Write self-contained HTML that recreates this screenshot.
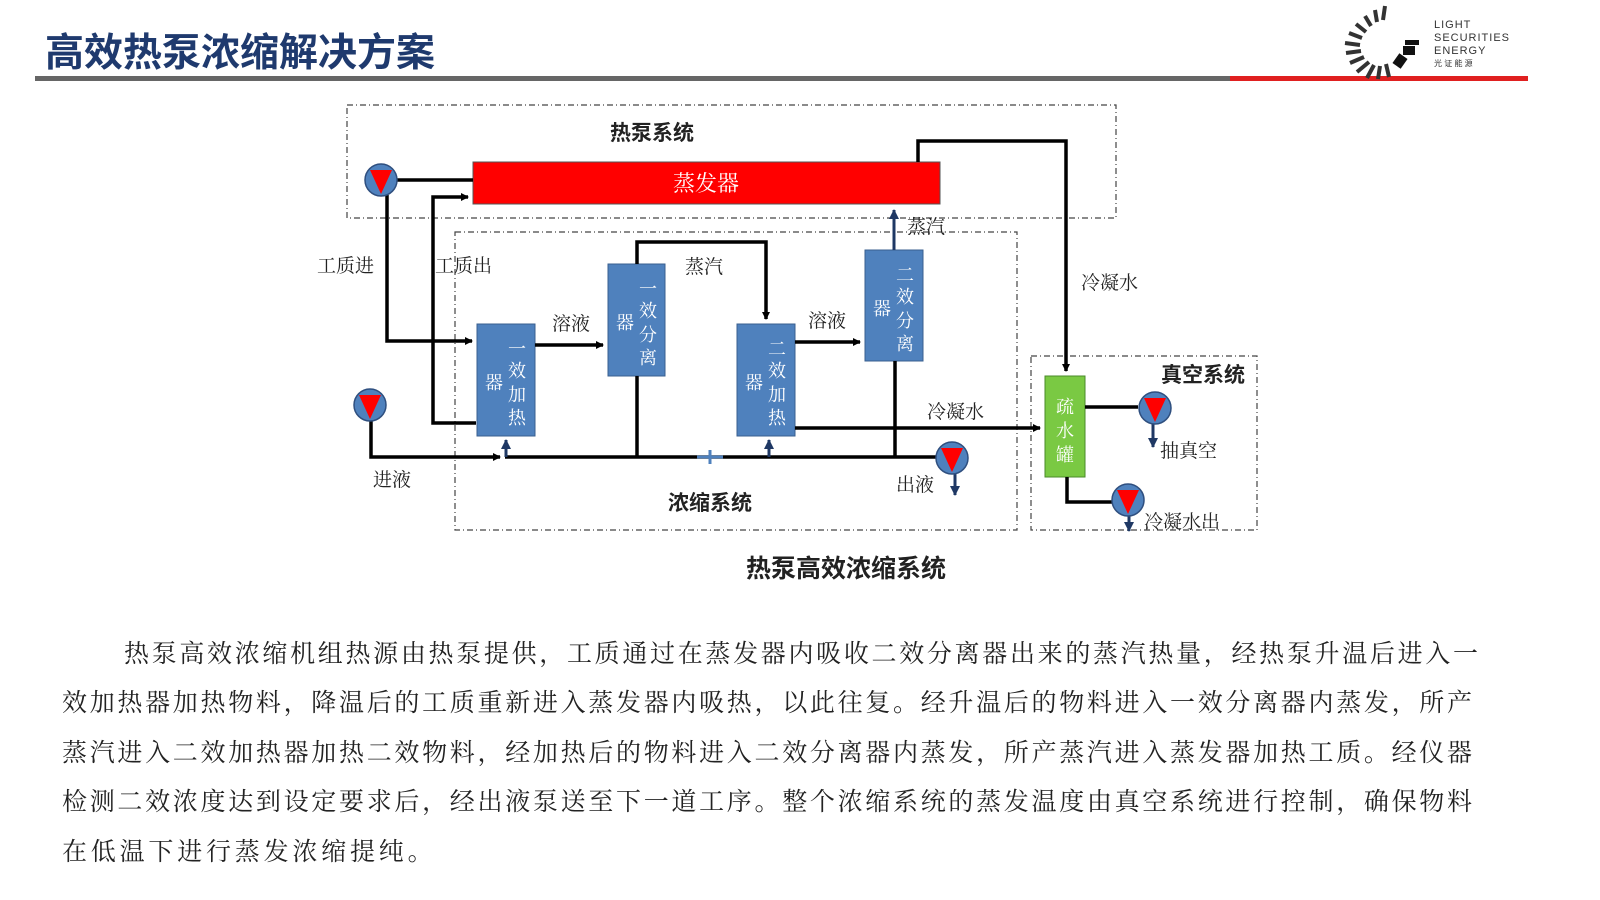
<!DOCTYPE html>
<html><head><meta charset="utf-8"><style>
body{margin:0;width:1600px;height:900px;background:#fff;position:relative;overflow:hidden;font-family:"Liberation Sans","Noto Sans CJK SC",sans-serif}
.t{position:absolute;left:45px;top:22px;font-size:39px;font-weight:bold;color:#1f3a6e}
.p{position:absolute;font-family:"Liberation Serif","Noto Serif CJK SC",serif;font-size:25px;color:#222;text-align:justify;text-align-last:justify;white-space:nowrap;height:30px;line-height:30px}
</style></head><body>
<div class="t">高效热泵浓缩解决方案</div>
<svg width="1600" height="900" style="position:absolute;left:0;top:0" font-family="Liberation Sans, Noto Sans CJK SC, sans-serif">
<defs><marker id="a" markerWidth="8" markerHeight="8" refX="7" refY="4" orient="auto" markerUnits="userSpaceOnUse"><path d="M0,0 L8,4 L0,8z" fill="#000"/></marker>
<marker id="b" markerWidth="10" markerHeight="10" refX="9" refY="5" orient="auto" markerUnits="userSpaceOnUse"><path d="M0,0 L10,5 L0,10z" fill="#1f3864"/></marker></defs>
<rect x="35" y="76" width="1195" height="5" fill="#666"/>
<rect x="1230" y="76" width="298" height="5" fill="#e02020"/>
<g stroke="#333" stroke-width="4">
<line x1="1385" y1="6" x2="1383" y2="20"/><line x1="1375" y1="10" x2="1377" y2="22"/><line x1="1365" y1="16" x2="1371" y2="26"/><line x1="1356" y1="24" x2="1366" y2="32"/><line x1="1349" y1="33" x2="1362" y2="38"/><line x1="1345" y1="43" x2="1360" y2="45"/><line x1="1346" y1="53" x2="1361" y2="51"/><line x1="1350" y1="63" x2="1364" y2="57"/><line x1="1357" y1="72" x2="1369" y2="62"/><line x1="1367" y1="78" x2="1374" y2="65"/><line x1="1378" y1="79" x2="1380" y2="66"/><line x1="1389" y1="77" x2="1386" y2="64"/></g>
<rect x="1395" y="55" width="10" height="12" fill="#111" transform="rotate(35 1400 61)"/><rect x="1403" y="46" width="12" height="9" fill="#111"/><rect x="1405" y="40" width="14" height="5" fill="#111"/>
<text x="1434" y="28" font-size="11" fill="#333" letter-spacing="1">LIGHT</text>
<text x="1434" y="41" font-size="11" fill="#333" letter-spacing="1">SECURITIES</text>
<text x="1434" y="54" font-size="11" fill="#333" letter-spacing="1">ENERGY</text>
<text x="1434" y="66" font-size="8" fill="#333">光 证 能 源</text>
<g fill="none" stroke="#444" stroke-width="1.2" stroke-dasharray="6,3,1,3">
<rect x="347" y="105" width="769" height="113"/><rect x="455" y="232" width="562" height="298"/><rect x="1031" y="356" width="226" height="174"/></g>
<rect x="473" y="162" width="467" height="42" fill="#ff0000" stroke="#555"/>
<text x="706" y="191" font-size="22" fill="#fff" text-anchor="middle" font-family="Liberation Serif, Noto Serif CJK SC, serif">蒸发器</text>
<g fill="#4f81bd" stroke="#3a5f8f"><rect x="477" y="324" width="58" height="112"/><rect x="608" y="264" width="57" height="112"/><rect x="737" y="324" width="58" height="112"/><rect x="865" y="250" width="58" height="111"/></g>
<rect x="1045" y="376" width="40" height="101" fill="#7ac943" stroke="#4a8a2a"/>
<g fill="#fff" font-size="18" text-anchor="middle" font-family="Liberation Serif, Noto Serif CJK SC, serif">
<text x="517" y="355">一</text><text x="517" y="377">效</text><text x="517" y="401">加</text><text x="517" y="424">热</text><text x="494" y="389">器</text>
<text x="648" y="295">一</text><text x="648" y="317">效</text><text x="648" y="341">分</text><text x="648" y="364">离</text><text x="625" y="329">器</text>
<text x="777" y="355">二</text><text x="777" y="377">效</text><text x="777" y="401">加</text><text x="777" y="424">热</text><text x="754" y="389">器</text>
<text x="905" y="281">二</text><text x="905" y="303">效</text><text x="905" y="327">分</text><text x="905" y="350">离</text><text x="882" y="315">器</text>
<text x="1065" y="413">疏</text><text x="1065" y="437">水</text><text x="1065" y="461">罐</text></g>
<g stroke="#000" stroke-width="3.5" fill="none">
<path d="M397,180 H473"/>
<path d="M387,195 V341 H472" marker-end="url(#a)"/>
<path d="M476,423 H433 V197 H468" marker-end="url(#a)"/>
<path d="M371,420 V457 H500" marker-end="url(#a)"/>
<path d="M505,457 H940"/>
<path d="M637,376 V457"/><path d="M895,361 V457"/>
<path d="M535,345 H603" marker-end="url(#a)"/>
<path d="M795,342 H860" marker-end="url(#a)"/>
<path d="M637,264 V242 H766 V319" marker-end="url(#a)"/>
<path d="M918,162 V141 H1066 V371" marker-end="url(#a)"/>
<path d="M795,428 H1040" marker-end="url(#a)"/>
<path d="M1085,407 H1138"/>
<path d="M1067,477 V502 H1112"/></g>
<g stroke="#1f3864" stroke-width="3" fill="none">
<path d="M894,250 V210" marker-end="url(#b)"/>
<path d="M506,457 V440" marker-end="url(#b)"/>
<path d="M769,457 V440" marker-end="url(#b)"/>
<path d="M955,470 V495" marker-end="url(#b)"/>
<path d="M1153,420 V447" marker-end="url(#b)"/>
<path d="M1129,512 V531" marker-end="url(#b)"/></g>
<path d="M697,457 H723 M710,450 V464" stroke="#4f81bd" stroke-width="3"/>
<g stroke="#2f4f7f" stroke-width="1.5"><g fill="#4f81bd">
<circle cx="381" cy="180" r="16"/><circle cx="370" cy="405" r="16"/><circle cx="952" cy="458" r="16"/><circle cx="1155" cy="408" r="16"/><circle cx="1128" cy="500" r="16"/></g>
<g fill="#ff0000" stroke="none">
<path d="M370,170 H392 L381,194z"/><path d="M359,395 H381 L370,419z"/><path d="M941,448 H963 L952,472z"/><path d="M1144,398 H1166 L1155,422z"/><path d="M1117,490 H1139 L1128,514z"/></g></g>
<g font-size="19" fill="#222" font-family="Liberation Serif, Noto Serif CJK SC, serif">
<text x="317" y="272">工质进</text><text x="435" y="272">工质出</text>
<text x="552" y="330">溶液</text><text x="685" y="273">蒸汽</text><text x="808" y="327">溶液</text>
<text x="907" y="233">蒸汽</text><text x="1081" y="289">冷凝水</text><text x="927" y="418">冷凝水</text>
<text x="373" y="486">进液</text><text x="896" y="491">出液</text>
<text x="1160" y="457">抽真空</text><text x="1144" y="528">冷凝水出</text></g>
<g fill="#222" font-weight="bold">
<text x="652" y="140" text-anchor="middle" font-size="21">热泵系统</text>
<text x="710" y="510" text-anchor="middle" font-size="21">浓缩系统</text>
<text x="1203" y="382" text-anchor="middle" font-size="21">真空系统</text>
<text x="846" y="577" text-anchor="middle" font-size="25">热泵高效浓缩系统</text></g>
</svg>
<div class="p" style="left:124px;top:640px;width:1354px">热泵高效浓缩机组热源由热泵提供，工质通过在蒸发器内吸收二效分离器出来的蒸汽热量，经热泵升温后进入一</div>
<div class="p" style="left:62px;top:689px;width:1410px">效加热器加热物料，降温后的工质重新进入蒸发器内吸热，以此往复。经升温后的物料进入一效分离器内蒸发，所产</div>
<div class="p" style="left:62px;top:739px;width:1410px">蒸汽进入二效加热器加热二效物料，经加热后的物料进入二效分离器内蒸发，所产蒸汽进入蒸发器加热工质。经仪器</div>
<div class="p" style="left:62px;top:788px;width:1410px">检测二效浓度达到设定要求后，经出液泵送至下一道工序。整个浓缩系统的蒸发温度由真空系统进行控制，确保物料</div>
<div class="p" style="left:62px;top:838px;text-align-last:left;letter-spacing:3.8px">在低温下进行蒸发浓缩提纯。</div>
</body></html>
